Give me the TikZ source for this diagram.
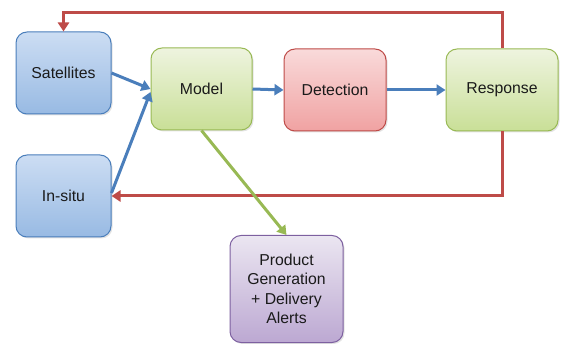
\documentclass[tikz,border=0pt]{standalone}
\usepackage{fontspec}
\setmainfont{Liberation Sans}
\usetikzlibrary{arrows.meta,shadows}
\definecolor{bluefillA}{HTML}{CCDDF3}
\definecolor{bluefillB}{HTML}{98BAE3}
\definecolor{blueline}{HTML}{4A7EBB}
\definecolor{greenfillA}{HTML}{EEF4DF}
\definecolor{greenfillB}{HTML}{C9DF97}
\definecolor{greenline}{HTML}{98B954}
\definecolor{redfillA}{HTML}{F9DADA}
\definecolor{redfillB}{HTML}{F0A2A2}
\definecolor{redline}{HTML}{BE4B48}
\definecolor{purpfillA}{HTML}{EBE6F1}
\definecolor{purpfillB}{HTML}{BCA8D2}
\definecolor{purpline}{HTML}{7D60A0}
\definecolor{txt}{HTML}{1A1A1A}
\tikzset{
  box/.style={rounded corners=11pt, line width=1pt, align=center, text=txt,
    font=\fontsize{15.8}{19.5}\selectfont, inner sep=2pt,
    drop shadow={shadow xshift=1.5pt, shadow yshift=-1.5pt, opacity=0.22}},
  bluebox/.style={box, draw=blueline, top color=bluefillA, bottom color=bluefillB},
  greenbox/.style={box, draw=greenline, top color=greenfillA, bottom color=greenfillB},
  redbox/.style={box, draw=redline, top color=redfillA, bottom color=redfillB},
  purpbox/.style={box, draw=purpline, top color=purpfillA, bottom color=purpfillB},
  arr/.style={line width=3pt, -{Triangle[width=11pt,length=9pt]}},
  bluearr/.style={arr, draw=blueline},
  redarr/.style={arr, draw=redline},
  greenarr/.style={arr, draw=greenline},
}
\begin{document}
\begin{tikzpicture}[x=1pt,y=-1pt]
\useasboundingbox (0,0) rectangle (561,344);
\node[bluebox, minimum width=95pt, minimum height=82pt] (sat) at (63.5,73) {Satellites};
\node[greenbox, minimum width=101pt, minimum height=82pt] (model) at (201.5,89) {Model};
\node[redbox, minimum width=102pt, minimum height=82pt] (det) at (335,90) {Detection};
\node[greenbox, minimum width=112pt, minimum height=82pt] (resp) at (502,90) {Response};
\node[bluebox, minimum width=95pt, minimum height=82pt] (insitu) at (63.5,196) {In-situ};
\node[purpbox, minimum width=113pt, minimum height=107pt] (prod) at (286.5,289) {Product\\Generation\\+ Delivery\\Alerts};
\coordinate (topy) at (0,13);
\draw[redarr] (resp.north) |- (topy -| sat.north) -- (sat.north);
\draw[redarr] (resp.south) |- (insitu.east);
\draw[bluearr] (sat.east) -- (model.west);
\draw[bluearr] ([yshift=3pt]insitu.east) -- ([yshift=-3pt]model.west);
\draw[bluearr] (model.east) -- (det.west);
\draw[bluearr] (det.east) -- (resp.west);
\draw[greenarr] (model.south) -- (prod.north);
\end{tikzpicture}
\end{document}
